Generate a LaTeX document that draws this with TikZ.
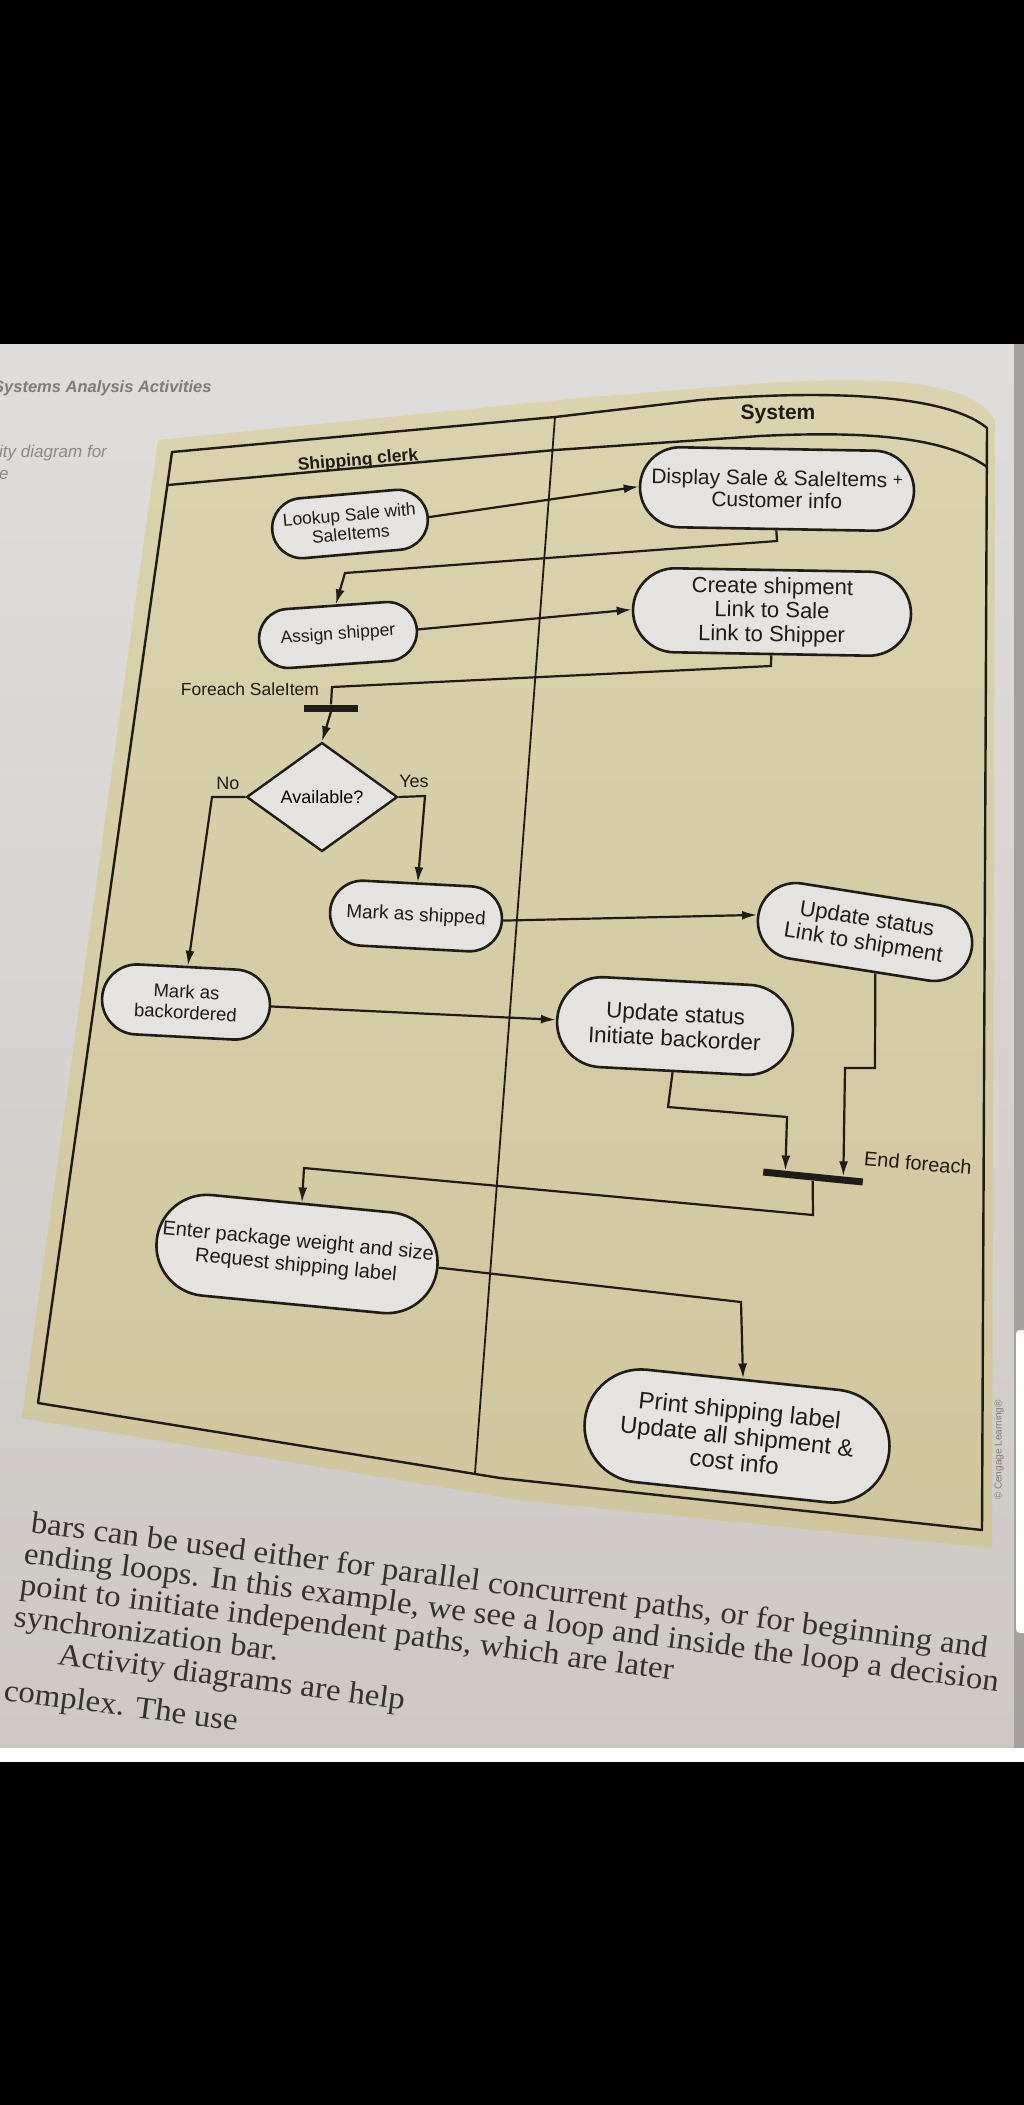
\documentclass[tikz,border=0pt]{standalone}
\usepackage{fontspec}
\setmainfont{Liberation Serif}
\setsansfont{Liberation Sans}
\usetikzlibrary{shapes.misc, shapes.geometric, arrows.meta, calc}

\definecolor{pagegray}{HTML}{DFDDDB}
\definecolor{pagelow}{HTML}{CDC8C4}
\definecolor{khaki}{HTML}{DAD3AD}
\definecolor{khakilow}{HTML}{CFC69E}
\definecolor{nodefill}{HTML}{E5E3DF}
\definecolor{ink}{HTML}{1F1B17}
\definecolor{printgray}{HTML}{7E7C7A}

\tikzset{
    activity/.style = {rounded rectangle, draw = ink, fill = nodefill, line width = 2.6pt,
      align = center, inner sep = 2pt, text = ink},
    decision/.style = {diamond, draw = ink, fill = nodefill, line width = 2.4pt, inner sep = 0pt},
    syncbar/.style = {rectangle, fill = ink, inner sep = 0pt, minimum height = 7pt},
    flow/.style = {draw = ink, line width = 2.2pt, -{Latex[length = 15pt, width = 9pt]}},
    plainflow/.style = {draw = ink, line width = 2.2pt},
    lane/.style = {draw = ink, line width = 2.4pt, line join = round},
    bodytext/.style = {anchor = base west, rotate = -7.5, xscale = 1.06, inner sep = 0pt,
      text = ink!90, font = \fontsize{31}{31}\selectfont},
}

\begin{document}
\begin{tikzpicture}[x = 1pt, y = -1pt]
    \useasboundingbox (0, 0) rectangle (1024, 2105);

    \fill[black] (0, 0) rectangle (1024, 344);
    \shade[top color = pagegray, bottom color = pagelow] (0, 344) rectangle (1014, 1748);
    \fill[pagelow!80!black] (1014, 344) rectangle (1024, 1748);
    \fill[white, rounded corners = 4pt] (1016, 1330) rectangle (1034, 1633);
    \fill[white] (0, 1748) rectangle (1024, 1762);
    \fill[black] (0, 1762) rectangle (1024, 2105);

    \begin{scope}
      \clip (0, 344) rectangle (1014, 1748);
      \node[anchor = base west, inner sep = 0pt, text = printgray,
        font = \sffamily\itshape\bfseries\fontsize{16.5}{17}\selectfont]
        (runhead) at (-7, 392) {Systems Analysis Activities};
      \node[anchor = base west, inner sep = 0pt, text = printgray!90,
        font = \sffamily\itshape\fontsize{17}{17}\selectfont]
        (caption) at (-1, 457) {ity diagram for};
      \node[anchor = base west, inner sep = 0pt, text = printgray!90,
        font = \sffamily\itshape\fontsize{17}{17}\selectfont]
        (caption2) at (-1, 479) {e};

      \node[bodytext] (para1) at (30, 1532) {bars can be used either for parallel concurrent paths, or for beginning and};
      \node[bodytext] (para2) at (23, 1563) {ending loops. In this example, we see a loop and inside the loop a decision};
      \node[bodytext] (para3) at (19, 1594) {point to initiate independent paths, which are later};
      \node[bodytext] (para4) at (13, 1626) {synchronization bar.};
      \node[bodytext] (para5) at (57, 1664) {Activity diagrams are help};
      \node[bodytext] (para6) at (3, 1700) {complex. The use};
    \end{scope}

    \shade[top color = khaki, bottom color = khakilow]
      (158, 440) -- (580, 398) -- (740, 385) .. controls (900, 372) and (975, 385) .. (995, 420)
      -- (992, 1548) -- (520, 1500) -- (22, 1418) -- cycle;

    \draw[lane] (172, 452) -- (555, 417) -- (700, 400) .. controls (820, 390) and (945, 393) .. (987, 428)
      -- (982, 1530) -- (500, 1478) -- (38, 1403) -- cycle;
    \draw[lane] (168, 485) -- (555, 450) -- (760, 436) .. controls (880, 430) and (950, 440) .. (987, 467);
    \draw[lane, line width = 1.8pt] (555, 417) -- (475, 1473);

    \node[rotate = 5, text = ink, font = \sffamily\bfseries\fontsize{17.5}{18}\selectfont]
      (clerk) at (358, 461) {Shipping clerk};
    \node[text = ink, font = \sffamily\bfseries\fontsize{21}{22}\selectfont]
      (system) at (778, 414) {System};

    \node[activity, minimum width = 160pt, minimum height = 60pt, rotate = 5,
      font = \sffamily\fontsize{17.5}{19}\selectfont]
      (lookup) at (350, 524) {Lookup Sale with\\SaleItems};
    \node[activity, minimum width = 278pt, minimum height = 80pt, rotate = -1,
      font = \sffamily\fontsize{21}{22}\selectfont]
      (display) at (777, 489) {Display Sale \& SaleItems {\fontsize{17}{17}\selectfont\raisebox{2pt}{+}}\\Customer info};
    \node[activity, minimum width = 162pt, minimum height = 59pt, rotate = 4,
      font = \sffamily\fontsize{17.5}{19}\selectfont]
      (assign) at (338, 635) {Assign shipper};
    \node[activity, minimum width = 282pt, minimum height = 84pt, rotate = -1,
      font = \sffamily\fontsize{22}{24}\selectfont]
      (create) at (772, 612) {Create shipment\\Link to Sale\\Link to Shipper};

    \node[text = ink, font = \sffamily\fontsize{17.5}{18}\selectfont]
      (foreach) at (250, 689) {Foreach SaleItem};
    \node[syncbar, minimum width = 54pt] (fork) at (331, 708) {};

    \node[decision, minimum width = 151pt, minimum height = 109pt,
      font = \sffamily\fontsize{18}{19}\selectfont]
      (avail) at (322, 797) {Available?};
    \node[text = ink, font = \sffamily\fontsize{18}{19}\selectfont] (no) at (228, 783) {No};
    \node[text = ink, font = \sffamily\fontsize{18}{19}\selectfont] (yes) at (414, 781) {Yes};

    \node[activity, minimum width = 176pt, minimum height = 65pt, rotate = -3,
      font = \sffamily\fontsize{19}{20}\selectfont]
      (shipped) at (416, 916) {Mark as shipped};
    \node[activity, minimum width = 220pt, minimum height = 76pt, rotate = -9,
      font = \sffamily\fontsize{22}{24}\selectfont]
      (linkship) at (865, 932) {Update status\\Link to shipment};
    \node[activity, minimum width = 172pt, minimum height = 70pt, rotate = -3,
      font = \sffamily\fontsize{18.5}{21}\selectfont]
      (backord) at (186, 1002) {Mark as\\backordered};
    \node[activity, minimum width = 240pt, minimum height = 90pt, rotate = -3,
      font = \sffamily\fontsize{22.5}{25}\selectfont]
      (initback) at (675, 1026) {Update status\\Initiate backorder};

    \node[syncbar, minimum width = 100pt, rotate = -5.7] (join) at (813, 1177) {};
    \node[rotate = -5, text = ink, font = \sffamily\fontsize{20}{21}\selectfont]
      (endfor) at (918, 1163) {End foreach};

    \node[activity, minimum width = 286pt, minimum height = 101pt, rotate = -5.5,
      font = \sffamily\fontsize{20}{24}\selectfont]
      (enter) at (297, 1254) {Enter package weight and size\\Request shipping label};
    \node[activity, minimum width = 310pt, minimum height = 113pt, rotate = -6,
      font = \sffamily\fontsize{24}{26}\selectfont]
      (print) at (737, 1436) {Print shipping label\\Update all shipment \&\\cost info};

    \draw[flow] (lookup.east) -- (display.west);
    \draw[flow] (display.south) -- (777, 541) -- (345, 573) -- (assign.north);
    \draw[flow] (assign.east) -- (create.west);
    \draw[plainflow] (create.south) -- (771, 666) -- (332, 687) -- (fork.north);
    \draw[flow] (fork.south) -- (avail.north);
    \draw[flow] (avail.west) -- (212, 797) -- (backord.north);
    \draw[flow] (avail.east) -- (425, 796) -- (shipped.north);
    \draw[flow] (shipped.east) -- (linkship.west);
    \draw[flow] (backord.east) -- (initback.west);
    \draw[flow] (initback.south) -- (668, 1107) -- (787, 1117)
      -- ($(join.north west)!0.22!(join.north east)$);
    \draw[flow] (linkship.-67) -- (875, 1068) -- (845, 1068)
      -- ($(join.north west)!0.8!(join.north east)$);
    \draw[flow] (join.south) -- (813, 1215) -- (304, 1168) -- (enter.north);
    \draw[flow] (enter.east) -- (741, 1302) -- (print.north);

    \node[rotate = 90, text = printgray, font = \sffamily\fontsize{10}{10}\selectfont]
      (credit) at (999, 1450) {© Cengage Learning®};
  \end{tikzpicture}
\end{document}
